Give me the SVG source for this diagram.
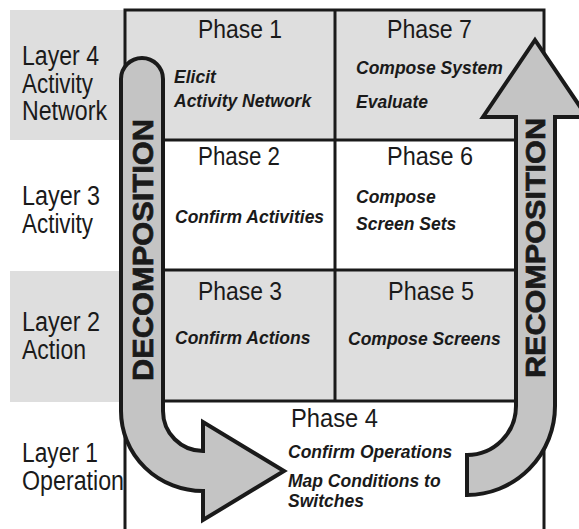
<svg xmlns="http://www.w3.org/2000/svg" width="579" height="529" viewBox="0 0 579 529">
<style>
.bg{fill:#dedede}
.grid{stroke:#1a1a1a;stroke-width:3;fill:none}
.layer{font-family:"Liberation Sans",Arial,sans-serif;font-size:27px;fill:#1a1a1a}
.phase{font-family:"Liberation Sans",Arial,sans-serif;font-size:25px;fill:#1a1a1a}
.task{font-family:"Liberation Sans",Arial,sans-serif;font-size:17.5px;font-weight:bold;font-style:italic;fill:#1a1a1a}
.arrow{fill:#c4c4c4;stroke:#1a1a1a;stroke-width:4;stroke-linejoin:miter}
.big{font-family:"Liberation Sans",Arial,sans-serif;font-weight:bold;fill:#1a1a1a;stroke:#1a1a1a;stroke-width:0.7;text-anchor:middle}
</style>
<rect x="0" y="0" width="579" height="529" fill="#fff"/>
<g id="layer4"><rect class="bg" x="10" y="10" width="115" height="130"/>
<text class="layer" x="22" y="65" textLength="77" lengthAdjust="spacingAndGlyphs">Layer 4</text>
<text class="layer" x="22" y="92.5" textLength="71" lengthAdjust="spacingAndGlyphs">Activity</text>
<text class="layer" x="22" y="120" textLength="85" lengthAdjust="spacingAndGlyphs">Network</text></g>
<g id="layer3">
<text class="layer" x="22" y="205" textLength="78" lengthAdjust="spacingAndGlyphs">Layer 3</text>
<text class="layer" x="22" y="233" textLength="71" lengthAdjust="spacingAndGlyphs">Activity</text></g>
<g id="layer2"><rect class="bg" x="10" y="271" width="115" height="131"/>
<text class="layer" x="22" y="331" textLength="78" lengthAdjust="spacingAndGlyphs">Layer 2</text>
<text class="layer" x="22" y="359" textLength="64" lengthAdjust="spacingAndGlyphs">Action</text></g>
<g id="layer1">
<text class="layer" x="22" y="462" textLength="76" lengthAdjust="spacingAndGlyphs">Layer 1</text>
<text class="layer" x="22" y="490" textLength="102" lengthAdjust="spacingAndGlyphs">Operation</text></g>
<g id="phase1"><rect class="bg" x="125" y="10" width="210" height="130"/>
<text class="phase" x="198" y="38" textLength="84" lengthAdjust="spacingAndGlyphs">Phase 1</text>
<text class="task" x="174" y="83">Elicit</text>
<text class="task" x="174" y="107">Activity Network</text></g>
<g id="phase7"><rect class="bg" x="335" y="10" width="209" height="130"/>
<text class="phase" x="387" y="38" textLength="85" lengthAdjust="spacingAndGlyphs">Phase 7</text>
<text class="task" x="356" y="74">Compose System</text>
<text class="task" x="356" y="108">Evaluate</text></g>
<g id="phase2">
<text class="phase" x="198" y="165" textLength="82" lengthAdjust="spacingAndGlyphs">Phase 2</text>
<text class="task" x="175" y="223">Confirm Activities</text></g>
<g id="phase6">
<text class="phase" x="387" y="165" textLength="86" lengthAdjust="spacingAndGlyphs">Phase 6</text>
<text class="task" x="356" y="203">Compose</text>
<text class="task" x="356" y="230">Screen Sets</text></g>
<g id="phase3"><rect class="bg" x="125" y="270" width="210" height="131"/>
<text class="phase" x="198" y="300" textLength="84" lengthAdjust="spacingAndGlyphs">Phase 3</text>
<text class="task" x="175" y="344">Confirm Actions</text></g>
<g id="phase5"><rect class="bg" x="335" y="270" width="209" height="131"/>
<text class="phase" x="388" y="300" textLength="86" lengthAdjust="spacingAndGlyphs">Phase 5</text>
<text class="task" x="348" y="345">Compose Screens</text></g>
<g id="phase4">
<text class="phase" x="291" y="427" textLength="87" lengthAdjust="spacingAndGlyphs">Phase 4</text>
<text class="task" x="288" y="458">Confirm Operations</text>
<text class="task" x="288" y="487">Map Conditions to</text>
<text class="task" x="288" y="507">Switches</text></g>
<g id="grid">
<path class="grid" d="M125,529 V10 H544 V529"/>
<path class="grid" d="M335,10 V401 M125,140 H544 M125,270 H544 M125,401 H544"/>
</g>
<g id="connectors">
<g id="decomposition">
<path class="arrow" d="M121,79 A21,21 0 0 1 163,79 L163,411 A40,40 0 0 0 203,451 L203,422 L284,471 L203,520 L203,491 A82,80 0 0 1 121,411 Z"/>
<text class="big" font-size="29" transform="translate(153,250) rotate(-90)" textLength="262" lengthAdjust="spacingAndGlyphs">DECOMPOSITION</text>
</g>
<g id="recomposition">
<path class="arrow" d="M535,40 L587,117 L555,117 L555,406 A88,89 0 0 1 467,495 L467,455 A49,49 0 0 0 516,406 L516,117 L483,117 Z"/>
<text class="big" font-size="28" transform="translate(545,248) rotate(-90)" textLength="260" lengthAdjust="spacingAndGlyphs">RECOMPOSITION</text>
</g>
</g>
</svg>
